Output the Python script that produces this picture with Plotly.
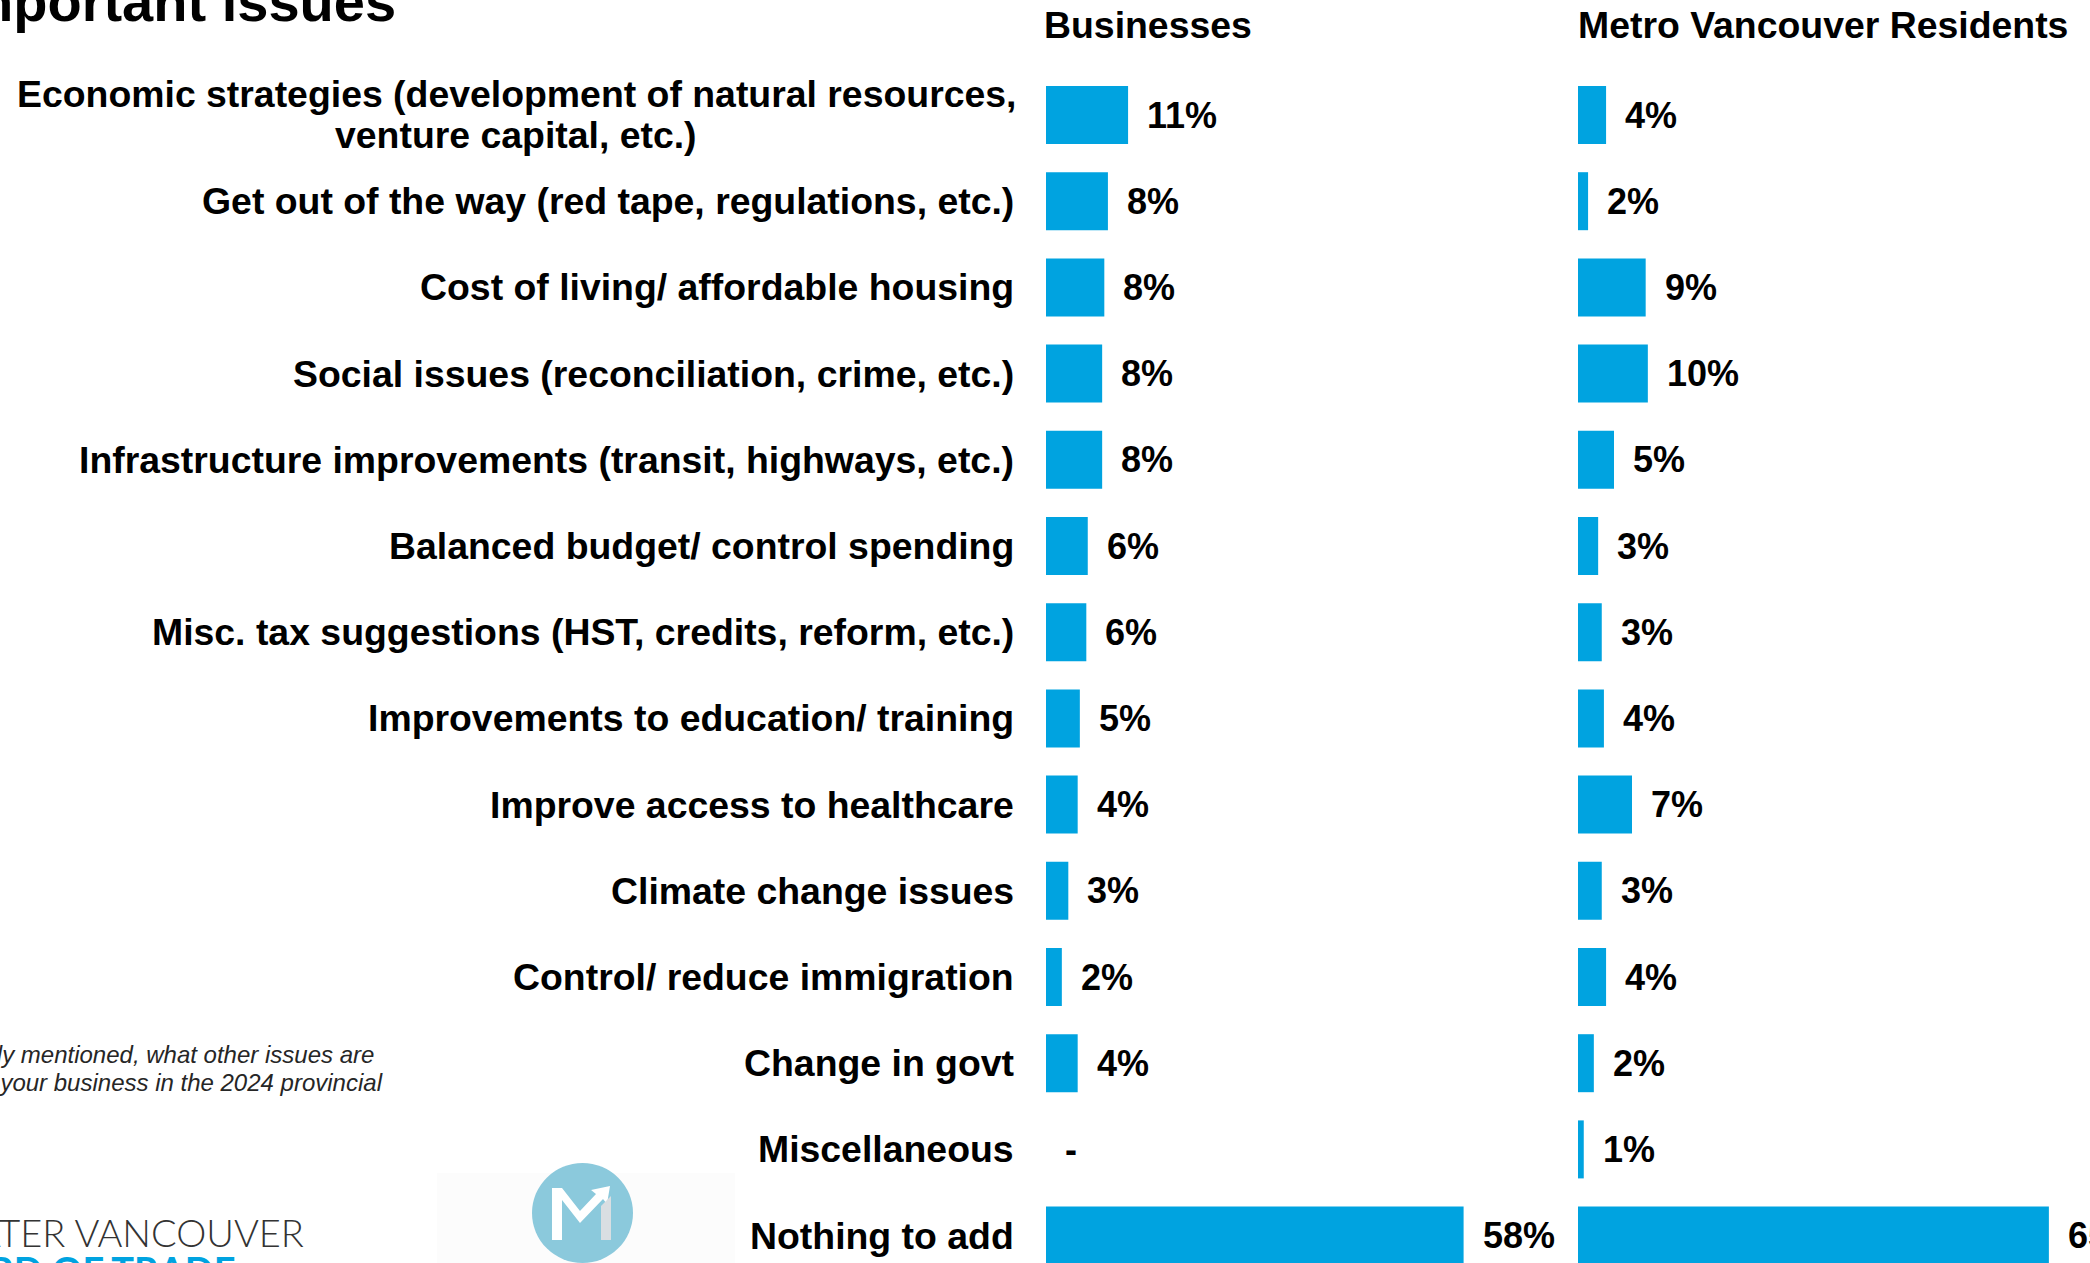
import plotly.graph_objects as go

# ---------------- data ----------------
categories = [
    "Economic strategies (development of natural resources,<br>venture capital, etc.)",
    "Get out of the way (red tape, regulations, etc.)",
    "Cost of living/ affordable housing",
    "Social issues (reconciliation, crime, etc.)",
    "Infrastructure improvements (transit, highways, etc.)",
    "Balanced budget/ control spending",
    "Misc. tax suggestions (HST, credits, reform, etc.)",
    "Improvements to education/ training",
    "Improve access to healthcare",
    "Climate change issues",
    "Control/ reduce immigration",
    "Change in govt",
    "Miscellaneous",
    "Nothing to add",
]
series_names = ["Businesses", "Metro Vancouver Residents"]
business_values = [11.4, 8.6, 8.1, 7.8, 7.8, 5.8, 5.6, 4.7, 4.4, 3.1, 2.2, 4.4, 0.0, 58.0]
business_labels = ["11%", "8%", "8%", "8%", "8%", "6%", "6%", "5%", "4%", "3%", "2%", "4%", "-", "58%"]
resident_values = [3.9, 1.4, 9.4, 9.7, 5.0, 2.8, 3.3, 3.6, 7.5, 3.3, 3.9, 2.2, 0.8, 65.4]
resident_labels = ["4%", "2%", "9%", "10%", "5%", "3%", "3%", "4%", "7%", "3%", "4%", "2%", "1%", "65%"]

title_text = "Other Important issues"
footnote_lines = [
    "Aside from the issues previously mentioned, what other issues are",
    "important to your business in the 2024 provincial",
]

# ---------------- layout constants ----------------
W, H = 2090, 1263
BAR_COLOR = "#00A3E0"
FONT = "Liberation Sans, Arial, sans-serif"
PX_PER_PCT = 7.2
ROW0 = 115.0      # pixel centre of first row
ROW_STEP = 86.2   # pixel distance between rows
BAR_PX = 58.0
LABEL_RIGHT = 1016
MULTILINE_CENTER = 516
LINE_GAP = 41


def px(x, y):
    return x / W, 1 - y / H


n = len(categories)
rows = list(range(n))
y_top = -ROW0 / ROW_STEP
y_bottom = y_top + H / ROW_STEP

b_left, b_right = 1046, 1570
r_left, r_right = 1578, W

fig = go.Figure()
fig.add_trace(go.Bar(
    x=business_values, y=rows, orientation="h", name=series_names[0],
    marker=dict(color=BAR_COLOR, line=dict(width=0)),
    width=BAR_PX / ROW_STEP, xaxis="x", yaxis="y", hoverinfo="skip",
))
fig.add_trace(go.Bar(
    x=resident_values, y=rows, orientation="h", name=series_names[1],
    marker=dict(color=BAR_COLOR, line=dict(width=0)),
    width=BAR_PX / ROW_STEP, xaxis="x2", yaxis="y", hoverinfo="skip",
))

annotations = []
bold = dict(family=FONT, size=37.4, color="#000000", weight="bold")
val_font = dict(family=FONT, size=36, color="#000000", weight="bold")

# category labels
for i, cat in enumerate(categories):
    lines = cat.split("<br>")
    if len(lines) == 1:
        annotations.append(dict(
            text=cat, x=LABEL_RIGHT / W, xref="paper", xanchor="right",
            y=i, yref="y", yanchor="middle", showarrow=False, font=bold,
        ))
    else:
        k = len(lines)
        for j, line in enumerate(lines):
            annotations.append(dict(
                text=line, x=MULTILINE_CENTER / W, xref="paper", xanchor="center",
                y=i, yref="y", yanchor="middle", yshift=((k - 1) / 2 - j) * LINE_GAP + 0.5,
                showarrow=False, font=bold,
            ))

# value labels
for i in rows:
    annotations.append(dict(
        text=business_labels[i], x=business_values[i], xref="x", xanchor="left",
        xshift=17, y=i, yref="y", yanchor="middle", showarrow=False, font=val_font,
    ))
    annotations.append(dict(
        text=resident_labels[i], x=resident_values[i], xref="x2", xanchor="left",
        xshift=17, y=i, yref="y", yanchor="middle", showarrow=False, font=val_font,
    ))

# column headers
for name, left in zip(series_names, [b_left - 4, r_left - 2]):
    hx, hy = px(left, 25)
    annotations.append(dict(
        text=name, x=hx, xref="paper", xanchor="left", y=hy, yref="paper",
        yanchor="middle", showarrow=False, font=bold,
    ))

# title (cropped at top-left)
tx, ty = px(398, 2)
annotations.append(dict(
    text=title_text, x=tx, xref="paper", xanchor="right", y=ty, yref="paper",
    yanchor="middle", showarrow=False,
    font=dict(family=FONT, size=56, color="#000000", weight="bold"),
))

# footnote (cropped at left)
for line, right, cy in zip(footnote_lines, [376, 385], [1054, 1082]):
    fx, fy = px(right, cy)
    annotations.append(dict(
        text="<i>" + line + "</i>", x=fx, xref="paper", xanchor="right", y=fy,
        yref="paper", yanchor="middle", showarrow=False,
        font=dict(family=FONT, size=24, color="#262626"),
    ))

# logo text (cropped)
gx, gy = px(306, 1232)
annotations.append(dict(
    text="GREATER VANCOUVER", x=gx, xref="paper", xanchor="right", y=gy, yref="paper",
    yanchor="middle", showarrow=False,
    font=dict(family="Lato, Open Sans, sans-serif", size=38, color="#333333", weight=300),
))
bx, by = px(238, 1270)
annotations.append(dict(
    text="BOARD OF TRADE", x=bx, xref="paper", xanchor="right", y=by, yref="paper",
    yanchor="middle", showarrow=False,
    font=dict(family="Lato, Open Sans, sans-serif", size=38, color=BAR_COLOR, weight="bold"),
))

shapes = []
# faint logo background
x0, y0 = px(437, 1263)
x1, y1 = px(735, 1173)
shapes.append(dict(type="rect", xref="paper", yref="paper", x0=x0, y0=y0, x1=x1, y1=y1,
                   fillcolor="#fcfcfc", line=dict(width=0), layer="below"))
# circle logo
cx0, cy0 = px(532, 1263)
cx1, cy1 = px(633, 1163)
shapes.append(dict(type="circle", xref="paper", yref="paper", x0=cx0, y0=cy0, x1=cx1, y1=cy1,
                   fillcolor="#8BC9DC", line=dict(width=0)))


def path_from(points):
    parts = []
    for k, (a, b) in enumerate(points):
        u, v = px(a, b)
        parts.append(("M" if k == 0 else "L") + f"{u:.5f},{v:.5f}")
    return " ".join(parts) + " Z"


m_white = [(552, 1240), (552, 1188), (562, 1188), (580, 1211), (596, 1194), (591, 1190),
           (610, 1186), (607, 1204), (603, 1199), (580, 1223), (562, 1200), (562, 1240)]
m_gray = [(601, 1206), (611, 1196), (611, 1240), (601, 1240)]
shapes.append(dict(type="path", xref="paper", yref="paper", path=path_from(m_white),
                   fillcolor="#ffffff", line=dict(width=0)))
shapes.append(dict(type="path", xref="paper", yref="paper", path=path_from(m_gray),
                   fillcolor="#D9DEE2", line=dict(width=0)))

fig.update_layout(
    width=W, height=H,
    margin=dict(l=0, r=0, t=0, b=0),
    paper_bgcolor="#ffffff", plot_bgcolor="rgba(0,0,0,0)",
    showlegend=False, barmode="overlay",
    annotations=annotations, shapes=shapes,
    xaxis=dict(domain=[b_left / W, b_right / W], range=[0, (b_right - b_left) / PX_PER_PCT],
               visible=False, showgrid=False, zeroline=False, anchor="y", fixedrange=True),
    xaxis2=dict(domain=[r_left / W, r_right / W], range=[0, (r_right - r_left) / PX_PER_PCT],
                visible=False, showgrid=False, zeroline=False, anchor="y", fixedrange=True),
    yaxis=dict(domain=[0, 1], range=[y_bottom, y_top], visible=False, showgrid=False,
               zeroline=False, fixedrange=True),
)

fig.write_html(
    "out.html",
    config={"displayModeBar": False},
    post_script="document.body.style.margin='0';document.body.style.overflow='hidden';",
)
